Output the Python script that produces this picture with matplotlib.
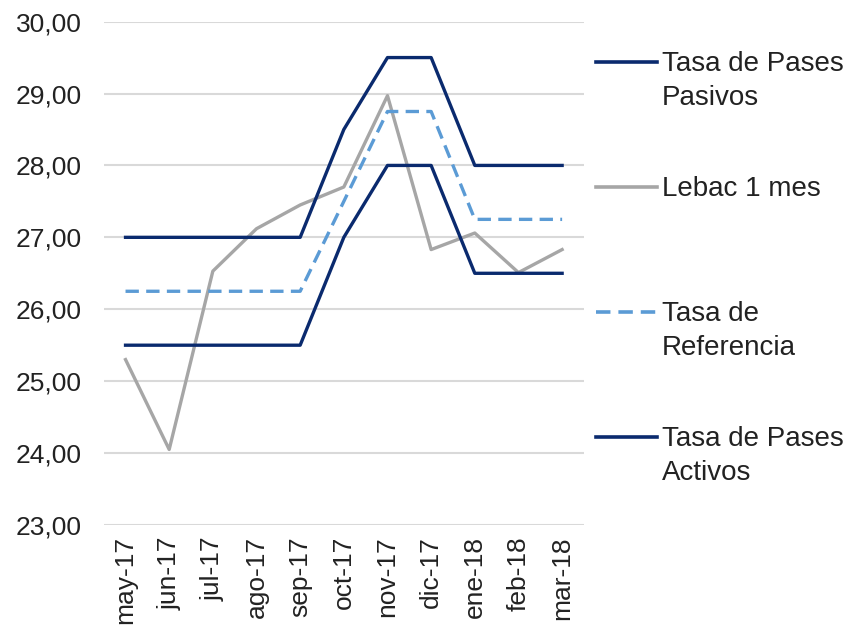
import matplotlib.pyplot as plt
from matplotlib.lines import Line2D

plt.rcParams['font.family'] = ['Liberation Sans', 'DejaVu Sans']

# months and series (%)
meses = ["may-17", "jun-17", "jul-17", "ago-17", "sep-17", "oct-17",
         "nov-17", "dic-17", "ene-18", "feb-18", "mar-18"]
pasivos = [27.0, 27.0, 27.0, 27.0, 27.0, 28.5, 29.5, 29.5, 28.0, 28.0, 28.0]
lebac = [25.3, 24.05, 26.53, 27.12, 27.45, 27.7, 28.97, 26.83, 27.06, 26.51, 26.83]
referencia = [26.25, 26.25, 26.25, 26.25, 26.25, 27.5, 28.75, 28.75, 27.25, 27.25, 27.25]
activos = [25.5, 25.5, 25.5, 25.5, 25.5, 27.0, 28.0, 28.0, 26.5, 26.5, 26.5]

navy = "#0a2a6e"
gris = "#a6a6a6"
celeste = "#5b9bd5"
dash = (0, (4, 2.2))

fig = plt.figure(figsize=(8.5, 6.3), dpi=100)
ax = fig.add_axes([0.122, 0.1667, 0.565, 0.799])

x = range(len(meses))
ax.plot(x, pasivos, color=navy, lw=2.4, zorder=4)
ax.plot(x, lebac, color=gris, lw=2.4, zorder=3)
ax.plot(x, referencia, color=celeste, lw=2.4, ls=dash, zorder=3)
ax.plot(x, activos, color=navy, lw=2.4, zorder=4)

ax.set_xlim(-0.5, len(meses) - 0.5)
ax.set_ylim(23, 30)
ax.set_yticks(range(23, 31))
ax.set_yticklabels([f"{v},00" for v in range(23, 31)])
ax.set_xticks(list(x))
ax.set_xticklabels(meses, rotation=90)
ax.tick_params(axis='both', length=0, labelsize=19, colors="#222222")
ax.tick_params(axis='y', pad=16)
ax.tick_params(axis='x', pad=8)
ax.grid(axis='y', color="#d9d9d9", lw=1.5)
for s in ax.spines.values():
    s.set_visible(False)

# legend on the right
entries = [
    ("Tasa de Pases\nPasivos", navy, '-', 62),
    ("Lebac 1 mes", gris, '-', 187),
    ("Tasa de\nReferencia", celeste, dash, 312),
    ("Tasa de Pases\nActivos", navy, '-', 437),
]
W, H = 850, 630
for label, c, ls, ypx in entries:
    yf = 1 - ypx / H
    fig.add_artist(Line2D([596 / W, 657 / W], [yf, yf], color=c, lw=2.6, ls=ls))
    fig.text(662 / W, 1 - (ypx - 11) / H, label, fontsize=20, va='top', ha='left',
             color="#222222", linespacing=1.4, transform=fig.transFigure)

fig.savefig("out.png", dpi=100)
